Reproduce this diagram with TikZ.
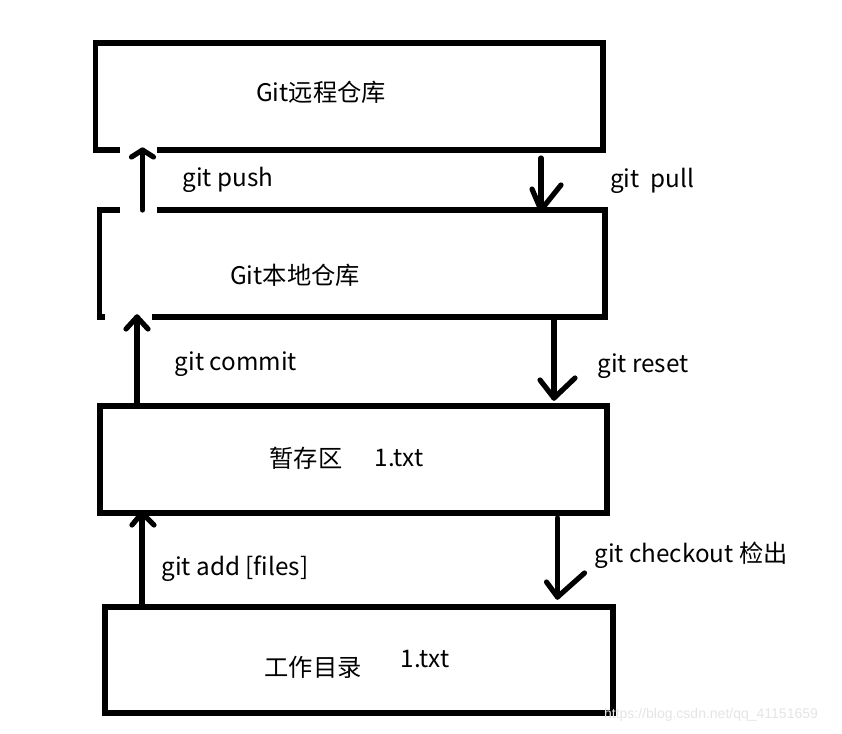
\documentclass[tikz,border=0pt]{standalone}
\usepackage{fontspec}
\setmainfont{Noto Sans CJK SC}
\newfontfamily\wmfont{Liberation Sans}
\begin{document}
\begin{tikzpicture}[x=0.75pt,y=-0.75pt,
  box/.style={draw=black,line width=3.9pt,inner sep=0pt,outer sep=0pt},
  lbl/.style={font=\fontsize{18.2}{22}\selectfont,inner sep=0pt,anchor=center},
  arr/.style={line width=3.9pt,line cap=round,line join=round},
  patch/.style={fill=white,draw=none}]
\useasboundingbox (0,0) rectangle (842,733);
\fill[white] (0,0) rectangle (842,733);

% boxes
\node[box,minimum width=380.6pt,minimum height=80.25pt] (b1) at (349.25,96.5) {};
\node[box,minimum width=379.1pt,minimum height=80.25pt] (b2) at (352.25,263.5) {};
\node[box,minimum width=380.25pt,minimum height=80.25pt] (b3) at (353.5,459.5) {};
\node[box,minimum width=381pt,minimum height=79.5pt] (b4) at (359,660) {};

% white patches where the pasted arrows cut the box edges
\fill[patch] (120,145) rectangle (157,215);
\fill[patch] (105,312) rectangle (152,322);

% x positions of the connectors
\coordinate (xp) at (142.5,0);
\coordinate (xc) at (137,0);
\coordinate (xa) at (142,0);
\coordinate (xl) at (541,0);
\coordinate (xr) at (554,0);

% git push (up)
\draw[arr] (b2.north -| xp) -- (b1.south -| xp);
\draw[arr] (b1.south -| xp) ++(-11,7) -- (b1.south -| xp) -- ++(11,7);
% git commit (up)
\draw[arr] (b3.north -| xc) -- (b2.south -| xc);
\draw[arr] (b2.south -| xc) ++(-11,12) -- (b2.south -| xc) -- ++(11,12);
% git add (up)
\draw[arr] (b4.north -| xa) -- (b3.south -| xa);
\draw[arr] (b3.south -| xa) ++(-10,12) -- (b3.south -| xa) -- ++(12,12);

% git pull (down)
\coordinate (pullS) at (541,158);
\draw[arr] (pullS) -- (b2.north -| xl);
\draw[arr] (b2.north -| xl) ++(-9,-21) -- (b2.north -| xl) -- ++(20,-25);
% git reset (down)
\coordinate (resetT) at (554,398);
\draw[arr] (b2.south -| xr) -- (resetT);
\draw[arr] (resetT) ++(-14,-18) -- (resetT) -- ++(21,-20);
% git checkout (down)
\coordinate (coS) at (557.5,518);
\coordinate (coT) at (557.5,597);
\draw[arr] (coS) -- (coT);
\draw[arr] (coT) ++(-11,-15) -- (coT) -- ++(27,-24);

% box texts
\node[lbl] (t1) at (321,92) {Git远程仓库};
\node[lbl] (t2) at (295,275) {Git本地仓库};
\node[lbl] (t3a) at (306,458) {暂存区};
\node[lbl] (t3b) at (399,458) {1.txt};
\node[lbl] (t4a) at (313,667) {工作目录};
\node[lbl] (t4b) at (425,659) {1.txt};

% connector labels
\node[lbl] (lpush) at (228,180) {git push};
\node[lbl] (lpull) at (652,181) {git\ \ pull};
\node[lbl] (lcommit) at (236,364) {git commit};
\node[lbl] (lreset) at (643,366) {git reset};
\node[lbl] (ladd) at (235,569) {git add [files]};
\node[lbl] (lco) at (691,555) {git checkout 检出};

% watermark
\node[font=\wmfont\fontsize{10.5}{12}\selectfont,text=black!10,inner sep=0pt] (wm) at (711,715) {https://blog.csdn.net/qq\_41151659};
\end{tikzpicture}
\end{document}
